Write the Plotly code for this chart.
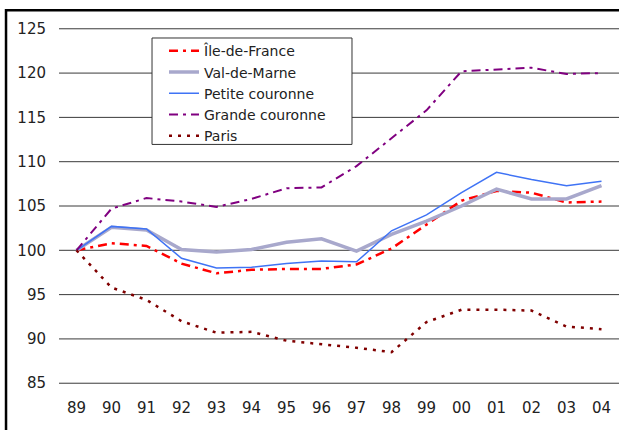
import plotly.graph_objects as go

years = ["89", "90", "91", "92", "93", "94", "95", "96", "97", "98", "99", "00", "01", "02", "03", "04"]
ile_de_france = [100, 100.8, 100.5, 98.5, 97.4, 97.8, 97.9, 97.9, 98.4, 100.2, 102.9, 105.6, 106.7, 106.5, 105.4, 105.5]
val_de_marne = [100, 102.6, 102.3, 100.1, 99.8, 100.1, 100.9, 101.3, 99.9, 101.8, 103.3, 105.0, 106.9, 105.8, 105.8, 107.3]
petite_couronne = [100, 102.7, 102.4, 99.1, 98.0, 98.1, 98.5, 98.8, 98.7, 102.2, 104.0, 106.5, 108.8, 108.0, 107.3, 107.8]
grande_couronne = [100, 104.7, 105.9, 105.5, 104.9, 105.8, 107.0, 107.1, 109.5, 112.7, 115.8, 120.2, 120.4, 120.6, 119.9, 120.0]
paris = [100, 95.8, 94.4, 92.0, 90.7, 90.8, 89.8, 89.4, 89.0, 88.5, 91.9, 93.3, 93.3, 93.2, 91.4, 91.1]
y_ticks = [85, 90, 95, 100, 105, 110, 115, 120, 125]

FONT = "DejaVu Sans"

fig = go.Figure()
fig.add_trace(go.Scatter(x=years, y=ile_de_france, name="Île-de-France", mode="lines",
                         line=dict(color="#ff0000", width=2.5, dash="9px,5px,3px,5px")))
fig.add_trace(go.Scatter(x=years, y=val_de_marne, name="Val-de-Marne", mode="lines",
                         line=dict(color="#a8a8cc", width=3.5)))
fig.add_trace(go.Scatter(x=years, y=petite_couronne, name="Petite couronne", mode="lines",
                         line=dict(color="#3f73f5", width=1.5)))
fig.add_trace(go.Scatter(x=years, y=grande_couronne, name="Grande couronne", mode="lines",
                         line=dict(color="#800080", width=2, dash="9px,5px,3px,5px")))
fig.add_trace(go.Scatter(x=years, y=paris, name="Paris", mode="lines",
                         line=dict(color="#800000", width=2.5, dash="3px,6px")))

grid_shapes = [dict(type="line", xref="paper", x0=0, x1=1, yref="y", y0=v, y1=v,
                    line=dict(color="#3a3a3a", width=1), layer="below") for v in y_ticks]

frame_shapes = [
    dict(type="rect", xref="paper", yref="paper", x0=-0.0946, x1=1.1, y0=-0.3, y1=1.047,
         line=dict(color="black", width=2.5), layer="below"),
    # legend box
    dict(type="rect", xref="paper", yref="paper", x0=0.1661, x1=0.5232, y0=0.672, y1=0.9693,
         fillcolor="white", line=dict(color="#333", width=1), layer="above"),
]

fig.update_layout(
    width=619, height=430,
    margin=dict(l=59, r=0, t=27, b=45),
    paper_bgcolor="white", plot_bgcolor="white",
    font=dict(family=FONT, size=15, color="#222"),
    xaxis=dict(type="category", range=[-0.5, 15.5], showgrid=False, showline=False,
               ticks="", tickfont=dict(size=15), ticklabelstandoff=12, fixedrange=True),
    yaxis=dict(range=[84.8, 125.2], tickvals=y_ticks, showgrid=False,
               zeroline=False, showline=False, ticks="", ticklabelstandoff=12,
               tickfont=dict(size=15), fixedrange=True),
    legend=dict(x=0.1875, y=0.977, xanchor="left", yanchor="top", bgcolor="rgba(0,0,0,0)",
                borderwidth=0, font=dict(size=14, family=FONT), tracegroupgap=0),
    showlegend=True,
    shapes=grid_shapes + frame_shapes,
)

fig.write_html("out.html", config={"displayModeBar": False},
               post_script="document.body.style.margin='0';document.body.style.overflow='hidden';")
